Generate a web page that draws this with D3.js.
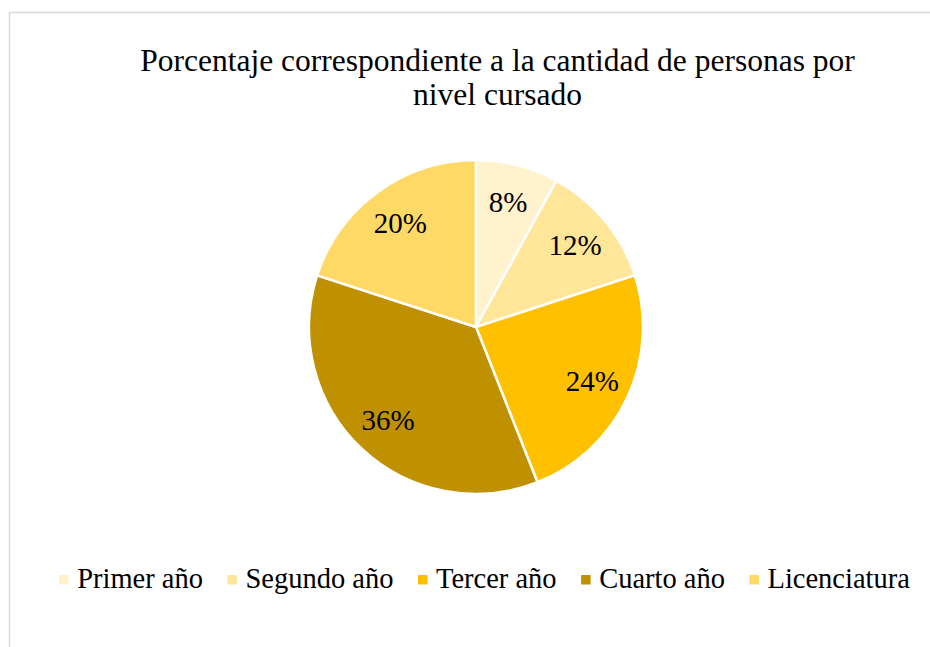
<!DOCTYPE html>
<html>
<head>
<meta charset="utf-8">
<script src="https://cdn.jsdelivr.net/npm/d3@7"></script>
<style>
  body { margin: 0; background: #fff; }
</style>
</head>
<body>
<svg id="chart" width="930" height="647"></svg>
<script>
const categories = ['Primer año', 'Segundo año', 'Tercer año', 'Cuarto año', 'Licenciatura'];
const values = [8, 12, 24, 36, 20];
const colors = ['#FFF2CC', '#FFE699', '#FFC000', '#BF9000', '#FFD966'];
const titleLines = ['Porcentaje correspondiente a la cantidad de personas por', 'nivel cursado'];

const width = 930, height = 647;
const center = { x: 476, y: 327 };
const radius = 167;
const serif = 'Liberation Serif';

const svg = d3.select('#chart');

// chart area border (only top/left edges fall inside the picture)
svg.append('rect')
  .attr('x', 9.5).attr('y', 12.5)
  .attr('width', 940).attr('height', 660)
  .attr('fill', 'none')
  .attr('stroke', '#d9d9d9')
  .attr('stroke-width', 1.5);

// title
const title = svg.append('text')
  .attr('text-anchor', 'middle')
  .attr('font-family', serif)
  .attr('font-size', 31.5);

title.selectAll('tspan')
  .data(titleLines)
  .join('tspan')
  .attr('x', 497.5)
  .attr('y', (d, i) => 71 + i * 34)
  .text(d => d);

const color = d3.scaleOrdinal().domain(categories).range(colors);

const pie = d3.pie().sort(null).value(d => d.value);
const data = categories.map((c, i) => ({ name: c, value: values[i] }));
const arcs = pie(data);

const arc = d3.arc().innerRadius(0).outerRadius(radius);
const labelArc = d3.arc().innerRadius(radius * 0.77).outerRadius(radius * 0.77);

const graph = svg.append('g')
  .attr('transform', `translate(${center.x}, ${center.y})`);

graph.selectAll('path')
  .data(arcs)
  .join('path')
  .attr('d', arc)
  .attr('fill', d => color(d.data.name))
  .attr('stroke', '#fff')
  .attr('stroke-width', 2.5)
  .attr('stroke-linejoin', 'round');

const total = d3.sum(values);
graph.selectAll('text.label')
  .data(arcs)
  .join('text')
  .attr('class', 'label')
  .attr('transform', d => `translate(${labelArc.centroid(d)})`)
  .attr('text-anchor', 'middle')
  .attr('dy', '0.33em')
  .attr('font-family', serif)
  .attr('font-size', 29)
  .text(d => `${Math.round(d.data.value / total * 100)}%`);

// legend
const legend = svg.append('g').attr('class', 'legend');
const items = legend.selectAll('g')
  .data(categories)
  .join('g');

items.append('rect')
  .attr('width', 9.5).attr('height', 9.5)
  .attr('y', -13)
  .attr('fill', d => color(d));

items.append('text')
  .attr('x', 18)
  .attr('font-family', serif)
  .attr('font-size', 28.5)
  .text(d => d);

let offset = 0;
items.each(function () {
  const w = this.querySelector('text').getComputedTextLength();
  d3.select(this).attr('data-x', offset);
  offset += 18 + w + 24.5;
});
offset -= 24.5;
const startX = 484.5 - offset / 2;
items.attr('transform', function () {
  return `translate(${startX + +this.getAttribute('data-x')}, 588)`;
});
</script>
</body>
</html>
